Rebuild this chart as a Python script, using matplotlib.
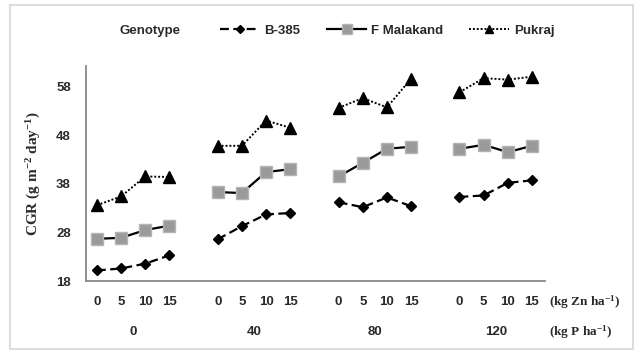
import matplotlib.pyplot as plt
from matplotlib.patches import Rectangle

plt.rcParams['mathtext.fontset'] = 'custom'
plt.rcParams['mathtext.rm'] = 'Liberation Serif:bold'
plt.rcParams['mathtext.bf'] = 'Liberation Serif:bold'
plt.rcParams['mathtext.default'] = 'rm'

# data
zn_levels = ['0', '5', '10', '15']
p_levels = ['0', '40', '80', '120']
b385 = [20.2, 20.6, 21.6, 23.3, 26.6, 29.3, 31.7, 32.0,
        34.2, 33.2, 35.2, 33.4, 35.3, 35.6, 38.2, 38.7]
f_malakand = [26.7, 26.9, 28.5, 29.4, 36.3, 36.1, 40.4, 41.0,
              39.5, 42.3, 45.2, 45.6, 45.2, 46.0, 44.5, 45.8]
pukraj = [33.6, 35.4, 39.5, 39.4, 45.8, 45.8, 51.0, 49.5,
          53.6, 55.6, 53.7, 59.6, 56.8, 59.7, 59.4, 60.0]
y_ticks = [18, 28, 38, 48, 58]

txt = '#2a2a2a'
fig = plt.figure(figsize=(6.37, 3.51), dpi=100, facecolor='white')
ax = fig.add_axes([0.135, 0.199, 0.721, 0.613])

# one empty slot between P groups
for g in range(len(p_levels)):
    x = [g * 5 + i for i in range(len(zn_levels))]
    s = slice(g * 4, g * 4 + 4)
    ax.plot(x, b385[s], ls=(0, (4, 2)), color='black', lw=1.6,
            marker='D', ms=5.5, mfc='black', mec='black',
            label='B-385' if g == 0 else None)
    ax.plot(x, f_malakand[s], ls='-', color='black', lw=1.6,
            marker='s', ms=9, mfc='#9a9a9a', mec='#b5b5b5',
            label='F Malakand' if g == 0 else None)
    ax.plot(x, pukraj[s], ls=(0, (1, 1)), color='black', lw=1.4,
            marker='^', ms=8, mfc='black', mec='black',
            label='Pukraj' if g == 0 else None)

ax.set_xlim(-0.45, 18.55)
ax.set_ylim(18, 62.2)
ax.set_yticks(y_ticks)
ax.set_yticklabels([str(t) for t in y_ticks], fontsize=9.5, fontweight='bold',
                   family='Liberation Sans', color=txt)
ax.tick_params(axis='y', length=0, pad=11)
ax.set_xticks([])
for side in ['top', 'right']:
    ax.spines[side].set_visible(False)
for side in ['left', 'bottom']:
    ax.spines[side].set_color('#888888')
    ax.spines[side].set_linewidth(1.3)

ax.set_ylabel('CGR (g m$^{-2}$ day$^{-1}$)', fontsize=11, family='Liberation Serif',
              fontweight='bold', color=txt, labelpad=9)

# two-level category labels
xt = ax.get_xaxis_transform()
for g, p in enumerate(p_levels):
    for i, z in enumerate(zn_levels):
        ax.text(g * 5 + i, -0.098, z, transform=xt, ha='center', va='center',
                fontsize=9.5, fontweight='bold', family='Liberation Sans', color=txt)
    ax.text(g * 5 + 1.5, -0.237, p, transform=xt, ha='center', va='center',
            fontsize=9.5, fontweight='bold', family='Liberation Sans', color=txt)
ax.text(18.7, -0.098, '(kg Zn ha$^{-1}$)', transform=xt, ha='left', va='center',
        fontsize=9.5, fontweight='bold', family='Liberation Serif', color=txt)
ax.text(18.7, -0.237, '(kg P ha$^{-1}$)', transform=xt, ha='left', va='center',
        fontsize=9.5, fontweight='bold', family='Liberation Serif', color=txt)

# legend row at the top
fig.text(0.188, 0.912, 'Genotype', fontsize=9.5, fontweight='bold',
         family='Liberation Sans', color=txt, va='center')
leg = fig.legend(loc='center left', bbox_to_anchor=(0.327, 0.912), ncol=3,
                 frameon=False, handlelength=3.0, columnspacing=2.0,
                 handletextpad=0.35, markerscale=0.75,
                 prop={'family': 'Liberation Sans', 'size': 9.5, 'weight': 'bold'})
for t in leg.get_texts():
    t.set_color(txt)

# light frame round the picture
fig.patches.append(Rectangle((0.016, 0.006), 0.978, 0.98, transform=fig.transFigure,
                             fill=False, edgecolor='#dddddd', lw=1.5))

fig.savefig('out.png', dpi=100, facecolor='white')
